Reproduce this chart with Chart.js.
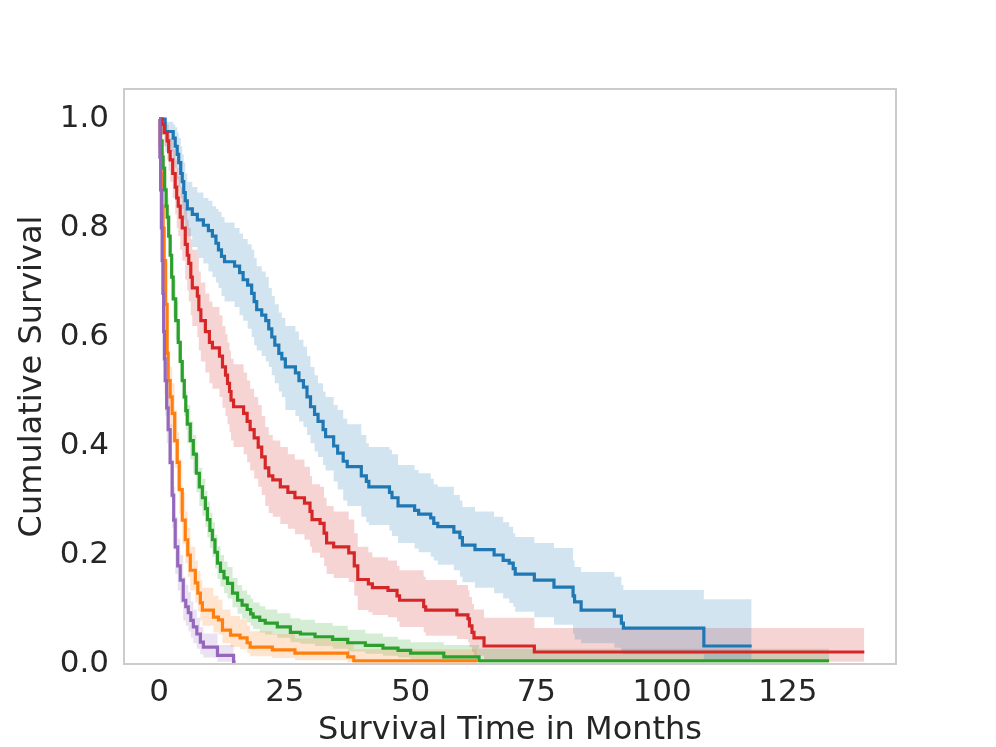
<!DOCTYPE html>
<html>
<head>
<meta charset="utf-8">
<script src="https://cdn.jsdelivr.net/npm/chart.js@4/dist/chart.umd.min.js"></script>
<style>
  body { margin: 0; background: #fff; }
  canvas { display: block; }
</style>
</head>
<body>
<canvas id="km" width="996" height="747"></canvas>
<script>
// axis ticks
const xTicks = [0, 25, 50, 75, 100, 125];
const yTicks = [0, 0.2, 0.4, 0.6, 0.8, 1.0];

// blue group: event times, survival, upper / lower CI
const blueT  = [0, 1.2, 2.8, 3.2, 3.6, 3.9, 4.3, 4.6, 4.9, 5.2, 5.6, 6.6, 7.6, 8.8, 9.8, 10.6, 11.3, 11.8, 12.4, 13.0, 15.0, 16.0, 16.7, 17.6, 18.4, 18.9, 19.4, 20.4, 21.2, 21.8, 22.4, 23.0, 23.8, 24.4, 25.1, 27.1, 27.8, 28.7, 29.4, 30.1, 30.9, 31.6, 32.6, 33.1, 34.7, 35.5, 36.6, 37.4, 40.2, 41.2, 41.7, 45.8, 46.3, 47.5, 50.8, 51.6, 54.0, 54.6, 55.4, 58.6, 59.8, 60.3, 62.8, 66.6, 68.4, 69.6, 70.4, 70.8, 74.6, 78.5, 82.3, 82.6, 83.9, 90.5, 91.9, 92.3, 108.3, 117.8];
const blueS  = [1.0, 0.977, 0.965, 0.95, 0.935, 0.92, 0.90, 0.885, 0.865, 0.85, 0.835, 0.825, 0.815, 0.805, 0.795, 0.785, 0.772, 0.76, 0.748, 0.738, 0.73, 0.718, 0.705, 0.695, 0.68, 0.665, 0.65, 0.64, 0.63, 0.615, 0.60, 0.585, 0.57, 0.56, 0.545, 0.534, 0.52, 0.508, 0.49, 0.472, 0.458, 0.445, 0.43, 0.417, 0.40, 0.387, 0.372, 0.362, 0.345, 0.335, 0.325, 0.315, 0.305, 0.29, 0.282, 0.275, 0.268, 0.258, 0.252, 0.242, 0.232, 0.218, 0.21, 0.20, 0.19, 0.185, 0.175, 0.165, 0.154, 0.141, 0.125, 0.114, 0.099, 0.088, 0.075, 0.066, 0.033, 0.033];
const blueHi = [1.0, 0.995, 0.99, 0.985, 0.975, 0.965, 0.95, 0.935, 0.92, 0.90, 0.885, 0.875, 0.865, 0.855, 0.85, 0.84, 0.835, 0.83, 0.82, 0.81, 0.80, 0.79, 0.78, 0.77, 0.76, 0.745, 0.73, 0.72, 0.71, 0.69, 0.675, 0.66, 0.645, 0.635, 0.62, 0.61, 0.595, 0.582, 0.565, 0.545, 0.53, 0.515, 0.50, 0.49, 0.475, 0.466, 0.45, 0.44, 0.42, 0.405, 0.398, 0.393, 0.385, 0.365, 0.356, 0.35, 0.34, 0.33, 0.325, 0.31, 0.30, 0.288, 0.28, 0.27, 0.26, 0.252, 0.24, 0.233, 0.222, 0.213, 0.19, 0.178, 0.169, 0.16, 0.145, 0.136, 0.119, 0.119];
const blueLo = [1.0, 0.94, 0.925, 0.91, 0.89, 0.875, 0.855, 0.835, 0.815, 0.80, 0.785, 0.765, 0.745, 0.735, 0.72, 0.71, 0.70, 0.69, 0.675, 0.665, 0.655, 0.64, 0.63, 0.615, 0.60, 0.585, 0.575, 0.565, 0.555, 0.545, 0.53, 0.515, 0.50, 0.49, 0.466, 0.455, 0.445, 0.435, 0.42, 0.405, 0.39, 0.38, 0.365, 0.355, 0.335, 0.32, 0.30, 0.29, 0.27, 0.26, 0.255, 0.245, 0.235, 0.222, 0.212, 0.205, 0.197, 0.19, 0.182, 0.172, 0.16, 0.15, 0.14, 0.13, 0.12, 0.112, 0.105, 0.096, 0.086, 0.072, 0.055, 0.045, 0.038, 0.03, 0.022, 0.018, 0.004, 0.004];

// orange group
const orangeT  = [0, 0.2, 0.4, 0.6, 0.8, 1.0, 1.3, 1.6, 1.8, 2.2, 2.6, 3.1, 3.6, 4.0, 4.6, 5.2, 5.7, 6.2, 7.2, 7.7, 8.2, 8.6, 10.8, 11.8, 12.6, 14.2, 16.1, 17.5, 18.1, 22.5, 27.0, 37.5, 38.7, 63.2];
const orangeS  = [1.0, 0.95, 0.90, 0.84, 0.80, 0.74, 0.66, 0.57, 0.52, 0.49, 0.46, 0.41, 0.37, 0.32, 0.264, 0.228, 0.20, 0.172, 0.149, 0.13, 0.112, 0.099, 0.086, 0.081, 0.062, 0.053, 0.048, 0.039, 0.031, 0.026, 0.02, 0.013, 0.006, 0.006];
const orangeHi = [1.0, 0.975, 0.935, 0.88, 0.845, 0.785, 0.71, 0.625, 0.575, 0.545, 0.515, 0.465, 0.425, 0.375, 0.315, 0.28, 0.25, 0.215, 0.19, 0.17, 0.154, 0.14, 0.125, 0.118, 0.10, 0.088, 0.082, 0.07, 0.06, 0.055, 0.047, 0.037, 0.027, 0.027];
const orangeLo = [1.0, 0.915, 0.86, 0.795, 0.75, 0.69, 0.605, 0.515, 0.465, 0.435, 0.405, 0.36, 0.32, 0.275, 0.22, 0.185, 0.16, 0.135, 0.113, 0.097, 0.08, 0.07, 0.058, 0.054, 0.038, 0.031, 0.027, 0.02, 0.014, 0.011, 0.007, 0.003, 0.001, 0.001];

// green group
const greenT  = [0, 0.3, 0.6, 0.8, 1.1, 1.4, 1.6, 1.9, 2.2, 2.5, 2.8, 3.3, 3.8, 4.2, 4.6, 5.0, 5.3, 5.6, 6.2, 6.8, 7.4, 8.0, 8.6, 9.2, 9.6, 10.1, 10.6, 11.1, 11.6, 12.2, 12.9, 13.6, 14.6, 15.6, 16.5, 17.5, 18.2, 18.7, 20.0, 21.1, 23.5, 26.1, 28.1, 31.0, 34.5, 37.5, 41.0, 44.5, 47.5, 50.0, 56.6, 63.6, 133.2];
const greenS  = [1.0, 0.96, 0.93, 0.91, 0.87, 0.84, 0.82, 0.785, 0.75, 0.71, 0.67, 0.63, 0.59, 0.555, 0.52, 0.49, 0.465, 0.44, 0.41, 0.385, 0.35, 0.325, 0.305, 0.285, 0.265, 0.245, 0.228, 0.205, 0.185, 0.17, 0.158, 0.148, 0.13, 0.117, 0.108, 0.10, 0.092, 0.086, 0.08, 0.075, 0.068, 0.058, 0.055, 0.05, 0.045, 0.039, 0.034, 0.029, 0.025, 0.02, 0.013, 0.006, 0.006];
const greenHi = [1.0, 0.98, 0.955, 0.94, 0.905, 0.875, 0.855, 0.82, 0.785, 0.745, 0.705, 0.665, 0.625, 0.59, 0.555, 0.525, 0.50, 0.475, 0.445, 0.42, 0.385, 0.36, 0.34, 0.318, 0.298, 0.278, 0.26, 0.237, 0.216, 0.20, 0.188, 0.178, 0.158, 0.145, 0.135, 0.127, 0.12, 0.113, 0.106, 0.10, 0.093, 0.084, 0.081, 0.075, 0.07, 0.063, 0.056, 0.05, 0.045, 0.04, 0.035, 0.028, 0.028];
const greenLo = [1.0, 0.94, 0.905, 0.88, 0.835, 0.805, 0.785, 0.75, 0.71, 0.675, 0.635, 0.595, 0.555, 0.52, 0.485, 0.455, 0.43, 0.405, 0.375, 0.35, 0.315, 0.29, 0.272, 0.252, 0.232, 0.213, 0.197, 0.175, 0.156, 0.142, 0.13, 0.12, 0.104, 0.092, 0.083, 0.076, 0.07, 0.064, 0.058, 0.054, 0.048, 0.04, 0.037, 0.033, 0.028, 0.023, 0.019, 0.015, 0.012, 0.008, 0.004, 0.001, 0.001];

// red group
const redT  = [0, 0.6, 1.0, 1.6, 1.9, 2.2, 2.7, 3.2, 3.5, 3.8, 4.2, 4.6, 5.2, 5.6, 5.9, 6.3, 6.6, 7.6, 7.9, 8.3, 9.2, 10.0, 10.6, 12.0, 12.6, 13.2, 13.6, 14.0, 14.3, 14.8, 16.8, 17.5, 18.1, 18.9, 19.7, 20.4, 21.1, 21.8, 22.6, 24.1, 25.6, 27.0, 28.9, 30.0, 30.4, 32.0, 32.8, 33.3, 34.7, 37.7, 38.8, 39.5, 41.6, 42.4, 45.5, 47.3, 47.8, 52.6, 53.0, 59.2, 61.4, 61.7, 62.2, 62.6, 64.6, 74.6, 140.2];
const redS  = [1.0, 0.99, 0.975, 0.96, 0.94, 0.925, 0.90, 0.875, 0.855, 0.84, 0.82, 0.80, 0.77, 0.75, 0.735, 0.71, 0.69, 0.675, 0.65, 0.63, 0.61, 0.59, 0.58, 0.565, 0.545, 0.53, 0.515, 0.50, 0.484, 0.472, 0.46, 0.445, 0.43, 0.415, 0.398, 0.38, 0.36, 0.345, 0.338, 0.325, 0.315, 0.305, 0.295, 0.28, 0.265, 0.258, 0.24, 0.222, 0.215, 0.204, 0.18, 0.155, 0.147, 0.14, 0.135, 0.125, 0.117, 0.105, 0.099, 0.09, 0.083, 0.07, 0.058, 0.048, 0.033, 0.022, 0.022];
const redHi = [1.0, 1.0, 0.995, 0.99, 0.975, 0.965, 0.945, 0.925, 0.91, 0.895, 0.875, 0.86, 0.835, 0.815, 0.80, 0.78, 0.76, 0.745, 0.72, 0.70, 0.68, 0.665, 0.655, 0.64, 0.62, 0.605, 0.59, 0.575, 0.56, 0.55, 0.535, 0.52, 0.505, 0.49, 0.475, 0.455, 0.435, 0.42, 0.41, 0.398, 0.385, 0.375, 0.362, 0.345, 0.33, 0.325, 0.305, 0.29, 0.28, 0.265, 0.24, 0.215, 0.205, 0.196, 0.19, 0.18, 0.172, 0.16, 0.154, 0.145, 0.135, 0.123, 0.11, 0.10, 0.085, 0.066, 0.066];
const redLo = [1.0, 0.97, 0.95, 0.925, 0.905, 0.885, 0.855, 0.825, 0.80, 0.785, 0.76, 0.74, 0.705, 0.685, 0.665, 0.64, 0.62, 0.60, 0.575, 0.555, 0.535, 0.515, 0.505, 0.49, 0.47, 0.455, 0.44, 0.425, 0.41, 0.398, 0.385, 0.37, 0.355, 0.34, 0.325, 0.31, 0.29, 0.277, 0.27, 0.257, 0.248, 0.238, 0.228, 0.215, 0.204, 0.195, 0.18, 0.165, 0.158, 0.15, 0.125, 0.099, 0.095, 0.09, 0.086, 0.078, 0.068, 0.058, 0.052, 0.046, 0.04, 0.031, 0.022, 0.015, 0.008, 0.004, 0.004];

// purple group
const purpleT  = [0, 0.15, 0.3, 0.45, 0.6, 0.75, 0.9, 1.05, 1.2, 1.5, 1.8, 2.2, 2.6, 2.9, 3.2, 3.7, 4.2, 4.8, 5.3, 5.8, 6.3, 6.8, 7.5, 8.2, 8.8, 11.6, 14.8, 15.2];
const purpleS  = [1.0, 0.93, 0.87, 0.80, 0.74, 0.68, 0.61, 0.56, 0.52, 0.47, 0.43, 0.37, 0.31, 0.264, 0.215, 0.18, 0.154, 0.117, 0.105, 0.094, 0.08, 0.068, 0.055, 0.04, 0.031, 0.016, 0.004, 0.004];
const purpleHi = [1.0, 0.965, 0.915, 0.855, 0.80, 0.745, 0.68, 0.63, 0.59, 0.54, 0.50, 0.44, 0.375, 0.325, 0.27, 0.23, 0.20, 0.16, 0.145, 0.132, 0.115, 0.10, 0.085, 0.068, 0.056, 0.035, 0.015, 0.015];
const purpleLo = [1.0, 0.89, 0.82, 0.745, 0.68, 0.615, 0.545, 0.495, 0.455, 0.405, 0.365, 0.305, 0.25, 0.21, 0.165, 0.135, 0.112, 0.08, 0.07, 0.06, 0.048, 0.038, 0.028, 0.018, 0.012, 0.004, 0.0, 0.0];

const groups = [
    { t: blueT,   s: blueS,   hi: blueHi,   lo: blueLo,   color: '#1f77b4', band: 'rgba(31, 119, 180, 0.2)' },
    { t: orangeT, s: orangeS, hi: orangeHi, lo: orangeLo, color: '#ff7f0e', band: 'rgba(255, 127, 14, 0.2)' },
    { t: greenT,  s: greenS,  hi: greenHi,  lo: greenLo,  color: '#2ca02c', band: 'rgba(44, 160, 44, 0.2)' },
    { t: redT,    s: redS,    hi: redHi,    lo: redLo,    color: '#d62728', band: 'rgba(214, 39, 40, 0.2)' },
    { t: purpleT, s: purpleS, hi: purpleHi, lo: purpleLo, color: '#9467bd', band: 'rgba(148, 103, 189, 0.2)' }
];

function pts(t, v) {
    return t.map((x, i) => ({ x: x, y: v[i] }));
}

// lines first (drawn on top), bands after
const datasets = [];
groups.slice().reverse().forEach(g => {
    datasets.push({
        data: pts(g.t, g.s),
        stepped: 'before',
        borderColor: g.color,
        borderWidth: 3.2,
        pointRadius: 0,
        fill: false
    });
});
groups.forEach(g => {
    datasets.push({
        data: pts(g.t, g.hi),
        stepped: 'before',
        borderWidth: 0,
        borderColor: 'rgba(0,0,0,0)',
        backgroundColor: g.band,
        pointRadius: 0,
        fill: '+1'
    });
    datasets.push({
        data: pts(g.t, g.lo),
        stepped: 'before',
        borderWidth: 0,
        borderColor: 'rgba(0,0,0,0)',
        pointRadius: 0,
        fill: false
    });
});

// light grey frame round the plot area
const frame = {
    id: 'frame',
    afterDatasetsDraw(chart) {
        const a = chart.chartArea;
        const ctx = chart.ctx;
        ctx.save();
        ctx.strokeStyle = '#cccccc';
        ctx.lineWidth = 2;
        ctx.strokeRect(a.left, a.top, a.right - a.left, a.bottom - a.top);
        ctx.restore();
    }
};

const textColor = '#262626';
const font = 'DejaVu Sans';

new Chart(document.getElementById('km').getContext('2d'), {
    type: 'line',
    data: { datasets: datasets },
    plugins: [frame],
    options: {
        responsive: false,
        animation: false,
        layout: { padding: { left: 0, top: 89, right: 100, bottom: 0 } },
        plugins: {
            legend: { display: false },
            tooltip: { enabled: false },
            filler: { drawTime: 'beforeDatasetsDraw' }
        },
        scales: {
            x: {
                type: 'linear',
                min: -6.98,
                max: 146.5,
                grid: { display: false, drawTicks: false },
                border: { display: false },
                afterBuildTicks: scale => { scale.ticks = xTicks.map(v => ({ value: v })); },
                afterFit: scale => { scale.height = 83; },
                ticks: {
                    padding: 13,
                    color: textColor,
                    font: { family: font, size: 31, lineHeight: 1 },
                    callback: v => String(v)
                },
                title: {
                    display: true,
                    text: 'Survival Time in Months',
                    color: textColor,
                    padding: 0,
                    font: { family: font, size: 32, lineHeight: 1 }
                }
            },
            y: {
                type: 'linear',
                min: 0,
                max: 1.055,
                grid: { display: false, drawTicks: false },
                border: { display: false },
                afterBuildTicks: scale => { scale.ticks = yTicks.map(v => ({ value: v })); },
                afterFit: scale => { scale.width = 124; },
                ticks: {
                    padding: 15,
                    color: textColor,
                    font: { family: font, size: 31, lineHeight: 1 },
                    callback: v => v.toFixed(1)
                },
                title: {
                    display: true,
                    text: 'Cumulative Survival',
                    color: textColor,
                    padding: { top: 17, bottom: 0 },
                    font: { family: font, size: 32, lineHeight: 1 }
                }
            }
        }
    }
});
</script>
</body>
</html>
